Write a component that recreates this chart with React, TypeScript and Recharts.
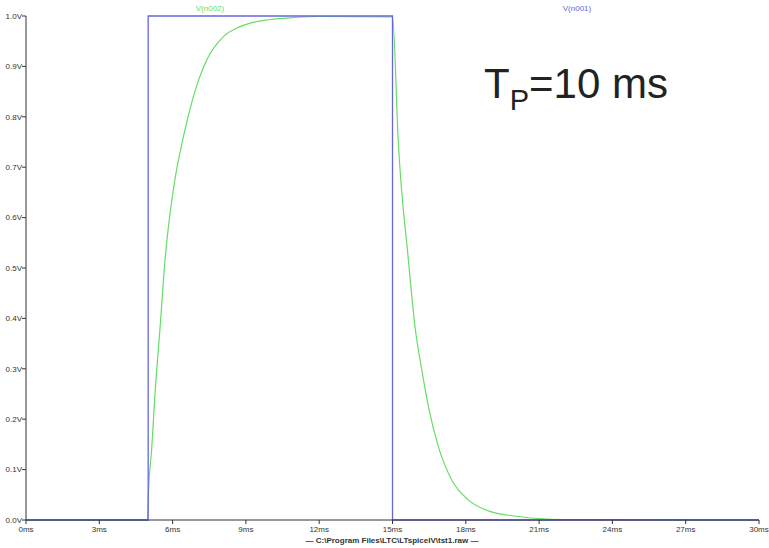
import * as React from "react"
import { LineChart, Line, XAxis, YAxis } from "recharts"

// V(n001): the square input pulse (ms, V)
const pulseTime = [0, 5, 5, 15, 15, 30]
const pulseVolts = [0, 0, 1, 1, 0, 0]

// V(n002): RC response (ms, V)
const rcTime = [
  0, 4.97, 5.01, 5.15, 5.28, 5.49, 5.69, 6.03, 6.44, 6.85, 7.4, 8.08, 8.76, 9.99, 11, 12, 15,
  15.24, 15.65, 15.92, 16.2, 16.47, 16.88, 17.43, 18.1, 19.06, 20.15, 20.96, 22, 30,
]
const rcVolts = [
  0, 0, 0.053, 0.145, 0.251, 0.384, 0.516, 0.655, 0.76, 0.84, 0.913, 0.959, 0.979, 0.993, 0.997, 0.999, 0.998,
  0.747, 0.516, 0.384, 0.298, 0.225, 0.145, 0.079, 0.04, 0.016, 0.007, 0.003, 0.001, 0,
]

const timeTicks = [0, 3, 6, 9, 12, 15, 18, 21, 24, 27, 30]
const voltTicks = [0, 0.1, 0.2, 0.3, 0.4, 0.5, 0.6, 0.7, 0.8, 0.9, 1.0]

const GREEN = "#66dd66"
const BLUE = "#6666dd"
const AXIS = "#333333"
const FONT = "'Liberation Sans', Arial, sans-serif"

const pulseData = pulseTime.map((t, i) => ({ t, v: pulseVolts[i] }))
const rcData = rcTime.map((t, i) => ({ t, v: rcVolts[i] }))

export default function App() {
  return (
    <div style={{ position: "absolute", left: 0, top: 0, width: 769, height: 548, background: "#fff", fontFamily: FONT }}>
      <LineChart width={769} height={548} margin={{ top: 16, right: 10, bottom: 0, left: 0 }}>
        <XAxis
          dataKey="t"
          type="number"
          domain={[0, 30]}
          ticks={timeTicks}
          interval={0}
          allowDataOverflow
          height={28}
          tickSize={4}
          tickMargin={2}
          tickFormatter={(v: number) => `${v}ms`}
          tick={{ fontSize: 8, fill: AXIS, fontFamily: FONT }}
          stroke={AXIS}
        />
        <XAxis
          xAxisId="top"
          orientation="top"
          type="number"
          domain={[0, 30]}
          height={0}
          tick={false}
          tickLine={false}
          stroke={AXIS}
        />
        <YAxis
          type="number"
          domain={[0, 1]}
          ticks={voltTicks}
          interval={0}
          width={26}
          tickSize={4}
          tickMargin={0}
          tickFormatter={(v: number) => `${v.toFixed(1)}V`}
          tick={{ fontSize: 8, fill: AXIS, fontFamily: FONT }}
          stroke={AXIS}
        />
        <YAxis
          yAxisId="right"
          orientation="right"
          type="number"
          domain={[0, 1]}
          width={0}
          tick={false}
          tickLine={false}
          stroke={AXIS}
        />
        <Line
          data={rcData}
          dataKey="v"
          type="monotone"
          stroke={GREEN}
          strokeWidth={1.2}
          dot={false}
          isAnimationActive={false}
        />
        <Line
          data={pulseData}
          dataKey="v"
          type="linear"
          stroke={BLUE}
          strokeWidth={1.3}
          dot={false}
          isAnimationActive={false}
        />
      </LineChart>
      <svg width={769} height={548} style={{ position: "absolute", left: 0, top: 0, pointerEvents: "none" }}>
        <text x={210} y={11} fontSize={8} fill={GREEN} textAnchor="middle" fontFamily={FONT}>
          V(n002)
        </text>
        <text x={577} y={11} fontSize={8} fill={BLUE} textAnchor="middle" fontFamily={FONT}>
          V(n001)
        </text>
        <text x={392} y={543} fontSize={8} fontWeight="bold" fill={AXIS} textAnchor="middle" fontFamily={FONT}>
          — C:\Program Files\LTC\LTspiceIV\tst1.raw —
        </text>
        <text x={484} y={98} fontSize={42} fill="#222" fontFamily={FONT}>
          T
          <tspan fontSize={29} dy={12}>P</tspan>
          <tspan dy={-12}>=10 ms</tspan>
        </text>
      </svg>
    </div>
  )
}
